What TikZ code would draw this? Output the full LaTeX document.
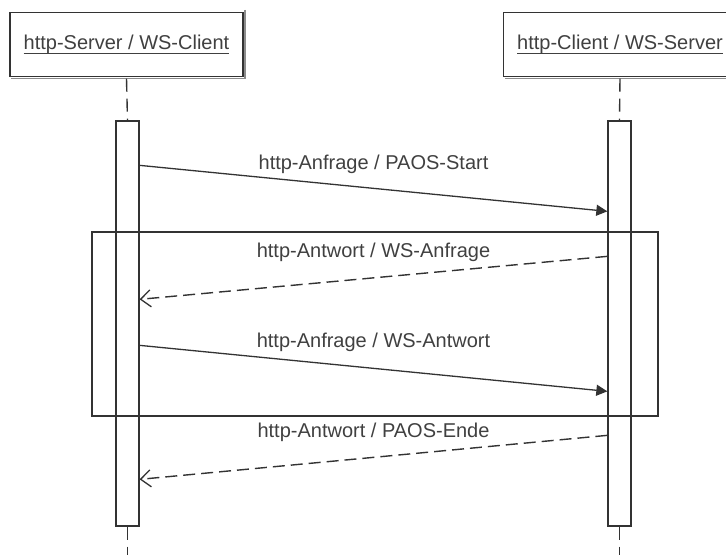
\documentclass[tikz,border=0pt]{standalone}
\usepackage{fontspec}
\setmainfont{Liberation Sans}
\usetikzlibrary{arrows.meta,calc}
\colorlet{ink}{black!80}
% underline placed at the descender line
\newcommand\hdrline[1]{\setbox0=\hbox{#1}\rlap{\rule[-3.8pt]{\wd0}{0.9pt}}\box0}

\begin{document}
\begin{tikzpicture}[x=1pt,y=-1pt,
  txt/.style={font=\fontsize{20}{24}\selectfont, text=black!75},
  hdr/.style={txt, draw=ink, line width=1.2pt, fill=white, inner sep=0pt,
    minimum width=233pt, minimum height=64pt},
  shade/.style={draw=black!45, line width=1.4pt},
  act/.style={draw=ink, line width=1.3pt, fill=white, inner sep=0pt,
    minimum width=23pt, minimum height=405pt},
  lifeline/.style={draw=ink, line width=1.4pt, dash pattern=on 13pt off 7pt},
  fragment/.style={draw=ink, line width=1.4pt, inner sep=0pt,
    minimum width=566pt, minimum height=184pt},
  call/.style={draw=ink, line width=1.3pt, -{Triangle[length=11pt,width=11pt]}},
  reply/.style={draw=ink, line width=1.4pt, dash pattern=on 12pt off 6pt,
    -{Straight Barb[length=10pt,width=17pt,line width=1.3pt]}},
  lbl/.style={txt, anchor=base, inner sep=0pt}]

\clip (0,0) rectangle (726,555);
\useasboundingbox (0,0) rectangle (726,555);

% participants, with a thin shade along the right and bottom edges
\node[hdr] (lh) at (126.5,44.5) {\hdrline{http-Server / WS-Client}};
\node[hdr] (rh) at (620,44.5) {\hdrline{http-Client / WS-Server}};
\draw[shade] ([shift={(1.5pt,2pt)}]lh.north east) -- ([shift={(1.5pt,-1.5pt)}]lh.south east)
  -- ([shift={(2pt,-1.5pt)}]lh.south west);
\draw[shade] ([shift={(1.5pt,-1.5pt)}]rh.south east) -- ([shift={(2pt,-1.5pt)}]rh.south west);

% activation bars
\node[act] (la) at (127.5,323.5) {};
\node[act] (ra) at (619.5,323.5) {};

% lifelines
\coordinate (lend) at (127.5,555);
\coordinate (rend) at (619.5,555);
\draw[lifeline] ([yshift=-1.5pt]lh.south) -- (la.north);
\draw[lifeline] ([yshift=-1.5pt]rh.south) -- (ra.north);
\draw[lifeline] (la.south) -- (lend);
\draw[lifeline] (ra.south) -- (rend);

% combined fragment around the inner exchange
\node[fragment] (fr) at (375,324) {};

% messages
\draw[call]  ([yshift=-45pt]la.north east)  -- ([yshift=-91pt]ra.north west);
\draw[reply] ([yshift=-136pt]ra.north west) -- ([yshift=-179pt]la.north east);
\draw[call]  ([yshift=-225pt]la.north east) -- ([yshift=-271pt]ra.north west);
\draw[reply] ([yshift=-315pt]ra.north west) -- ([yshift=-359pt]la.north east);

% message labels
\node[lbl] (t1) at (373.5,169) {http-Anfrage / PAOS-Start};
\node[lbl] (t2) at (373.5,257) {http-Antwort / WS-Anfrage};
\node[lbl] (t3) at (373.5,347) {http-Anfrage / WS-Antwort};
\node[lbl] (t4) at (373.5,437) {http-Antwort / PAOS-Ende};
\end{tikzpicture}
\end{document}
